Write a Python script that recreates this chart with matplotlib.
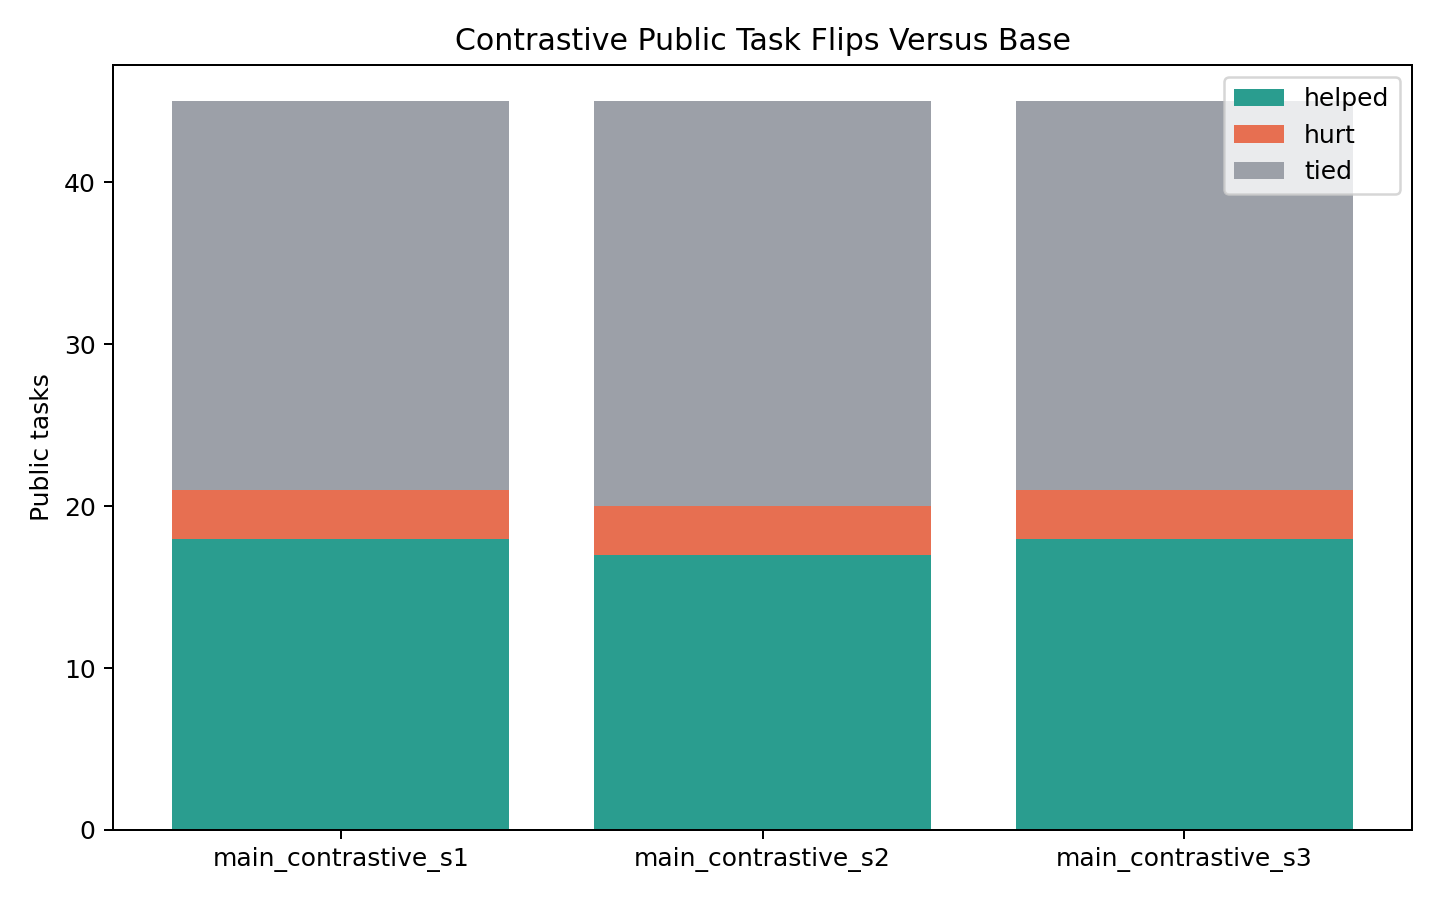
import numpy as np
import matplotlib
matplotlib.use("Agg")
import matplotlib.pyplot as plt

runs = ["main_contrastive_s1", "main_contrastive_s2", "main_contrastive_s3"]
helped = [18, 17, 18]
hurt = [3, 3, 3]
tied = [24, 25, 24]

fig, ax = plt.subplots(figsize=(8, 5), dpi=180)
x = np.arange(len(runs))
helped_a = np.array(helped)
hurt_a = np.array(hurt)

ax.bar(x, helped, color="#2a9d8f", label="helped")
ax.bar(x, hurt, bottom=helped_a, color="#e76f51", label="hurt")
ax.bar(x, tied, bottom=helped_a + hurt_a, color="#9ca0a8", label="tied")

ax.set_xticks(x)
ax.set_xticklabels(runs)
ax.set_ylabel("Public tasks")
ax.set_title("Contrastive Public Task Flips Versus Base")
ax.legend(loc="upper right")

fig.subplots_adjust(left=0.0785, right=0.9806, top=0.9278, bottom=0.0778)
fig.savefig("out.png")
